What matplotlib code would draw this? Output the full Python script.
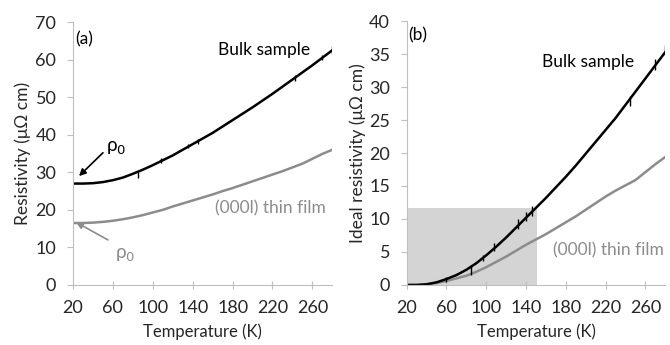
import matplotlib.pyplot as plt

plt.rcParams['font.family'] = ['Lato', 'DejaVu Sans']

# temperatures (K)
temp = [20, 30, 40, 50, 60, 70, 80, 90, 100, 110, 120, 130, 140, 150, 160,
        170, 180, 190, 200, 210, 220, 230, 240, 250, 260, 270, 280]

# panel (a): resistivity (uOhm cm)
bulk_a = [27.0, 27.0, 27.1, 27.4, 27.9, 28.6, 29.6, 30.7, 31.9, 33.2, 34.5, 36.0,
          37.5, 39.0, 40.5, 42.2, 43.9, 45.6, 47.3, 49.1, 50.9, 52.8, 54.7, 56.6,
          58.5, 60.5, 62.5]
film_a = [16.5, 16.5, 16.6, 16.8, 17.1, 17.5, 18.0, 18.6, 19.3, 20.0, 20.9, 21.7,
          22.5, 23.3, 24.1, 25.0, 25.8, 26.7, 27.6, 28.5, 29.4, 30.3, 31.3, 32.3,
          33.6, 34.9, 36.0]

# panel (b): ideal resistivity (uOhm cm)
bulk_b = [0.0, 0.0, 0.1, 0.4, 0.9, 1.5, 2.3, 3.3, 4.5, 5.8, 7.2, 8.7, 10.2, 11.7,
          13.2, 14.8, 16.4, 18.1, 19.9, 21.7, 23.5, 25.3, 27.3, 29.3, 31.3, 33.3, 35.3]
film_b = [0.0, 0.0, 0.1, 0.3, 0.6, 1.0, 1.4, 2.0, 2.7, 3.5, 4.3, 5.2, 6.1, 6.9,
          7.7, 8.6, 9.5, 10.4, 11.4, 12.4, 13.4, 14.3, 15.1, 15.9, 17.1, 18.3, 19.4]

# small glitches in the bulk measurement
glitch_t_a = [85, 108, 135, 145, 243, 270, 280]
glitch_lo_a = [28.6, 32.6, 36.4, 37.6, 54.2, 59.9, 61.6]
glitch_hi_a = [30.2, 33.8, 37.6, 38.8, 55.9, 61.3, 63.5]
glitch_t_b = [60, 85, 97, 108, 132, 140, 146, 244, 270, 280]
glitch_lo_b = [0.5, 1.5, 3.6, 5.2, 8.5, 9.7, 10.5, 27.2, 32.6, 34.8]
glitch_hi_b = [1.2, 3.0, 4.6, 6.4, 10.0, 11.0, 12.0, 28.7, 34.2, 36.3]

ticks_x = [20, 60, 100, 140, 180, 220, 260]
gray = '#8c8c8c'
spine = '#bfbfbf'
txt = '#262626'
fs = 12.5

fig = plt.figure(figsize=(6.7, 3.45), dpi=100)
ax1 = fig.add_axes([0.109, 0.174, 0.387, 0.762])
ax2 = fig.add_axes([0.607, 0.174, 0.386, 0.765])

for ax in (ax1, ax2):
    ax.spines['top'].set_visible(False)
    ax.spines['right'].set_visible(False)
    ax.spines['left'].set_color(spine)
    ax.spines['bottom'].set_color(spine)
    ax.set_xlim(20, 280)
    ax.set_xticks(ticks_x)
    ax.tick_params(axis='x', direction='inout', length=6, color=spine,
                   labelsize=13, labelcolor=txt, pad=8)
    ax.tick_params(axis='y', direction='out', length=4, color=spine,
                   labelsize=13, labelcolor=txt, pad=8)
    ax.set_xlabel('Temperature (K)', fontsize=12, color=txt, labelpad=5)

# (a)
ax1.plot(temp, film_a, color=gray, lw=1.8)
ax1.plot(temp, bulk_a, color='black', lw=1.8)
ax1.vlines(glitch_t_a, glitch_lo_a, glitch_hi_a, color='black', lw=1)
ax1.set_ylim(0, 70)
ax1.set_yticks(range(0, 71, 10))
ax1.set_ylabel('Resistivity (μΩ cm)', fontsize=fs, color=txt, labelpad=3)
ax1.text(22, 65.5, '(a)', fontsize=fs, color='black', va='center')
ax1.text(258, 62.5, 'Bulk sample', fontsize=fs, color='black', ha='right', va='center')
ax1.text(274, 20.5, '(000l) thin film', fontsize=fs, color=gray, ha='right', va='center')
ax1.text(53, 36.3, 'ρ$_0$', fontsize=fs + 1, color='black', va='center')
ax1.annotate('', xy=(26, 29.0), xytext=(50, 35.2),
             arrowprops=dict(arrowstyle='-|>', color='black', lw=1.2,
                             mutation_scale=10, shrinkA=0, shrinkB=0))
ax1.text(62, 8.0, 'ρ$_0$', fontsize=fs + 1, color=gray, va='center')
ax1.annotate('', xy=(23, 16.7), xytext=(55, 12.0),
             arrowprops=dict(arrowstyle='-|>', color=gray, lw=1.2,
                             mutation_scale=10, shrinkA=0, shrinkB=0))

# (b)
ax2.axvspan(20, 151, ymax=11.6 / 40, color='#d4d4d4', lw=0, zorder=0)
ax2.plot(temp, film_b, color=gray, lw=1.8)
ax2.plot(temp, bulk_b, color='black', lw=1.8)
ax2.vlines(glitch_t_b, glitch_lo_b, glitch_hi_b, color='black', lw=1)
ax2.set_ylim(0, 40)
ax2.set_yticks(range(0, 41, 5))
ax2.set_ylabel('Ideal resistivity (μΩ cm)', fontsize=fs, color=txt, labelpad=2)
ax2.text(22, 37.8, '(b)', fontsize=fs, color='black', va='center')
ax2.text(249, 33.8, 'Bulk sample', fontsize=fs, color='black', ha='right', va='center')
ax2.text(279, 5.3, '(000l) thin film', fontsize=fs, color=gray, ha='right', va='center')

fig.savefig('out.png', dpi=100)
